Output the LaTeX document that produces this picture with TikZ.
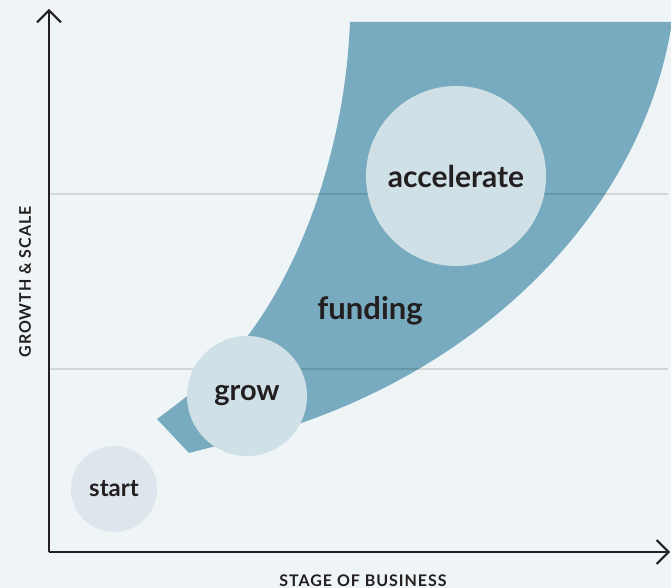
\documentclass[tikz,border=0pt]{standalone}
\usepackage{fontspec}
\setmainfont{Lato}
\newfontfamily\spacedfont[LetterSpace=6]{Lato}
\usetikzlibrary{arrows.meta}
\definecolor{bg}{HTML}{EFF4F7}
\definecolor{band}{HTML}{78ABBF}
\definecolor{bubble}{HTML}{CFE0E7}
\definecolor{bubblelight}{HTML}{DCE6EC}
\definecolor{ink}{HTML}{231F20}
\begin{document}
\begin{tikzpicture}[x=1pt,y=-1pt,
  axis/.style={draw=ink,line width=2pt,-{Straight Barb[length=12pt,width=24pt]}},
  gridline/.style={draw=black,opacity=0.12,line width=1.5pt},
  bubblenode/.style={circle,fill=bubble,inner sep=0pt,text=ink,font=\bfseries\fontsize{30}{36}\selectfont},
  axislabel/.style={text=ink,font=\spacedfont\bfseries\fontsize{16}{19}\selectfont,inner sep=0pt}]
\fill[bg] (0,0) rectangle (671,588);
\useasboundingbox (0,0) rectangle (671,588);
\begin{scope}
\clip (0,0) rectangle (671,588);
\fill[band] (350,22) .. controls (345,150) and (300,270) .. (243,342)
  .. controls (220,370) and (190,395) .. (157,419)
  -- (189,453) -- (212,447)
  .. controls (450,400) and (640,230) .. (672,22)
  -- cycle;
\end{scope}
\coordinate (g1a) at (49,194); \coordinate (g1b) at (668,194);
\coordinate (g2a) at (49,369); \coordinate (g2b) at (668,369);
\draw[gridline] (g1a) -- (g1b);
\draw[gridline] (g2a) -- (g2b);
\node[bubblenode,minimum size=180pt] (acc) at (456,176) {accelerate};
\node[bubblenode,minimum size=120pt,font=\bfseries\fontsize{29}{35}\selectfont] (grow) at (247,396) {grow};
\node[bubblenode,fill=bubblelight,minimum size=86pt,font=\bfseries\fontsize{24}{29}\selectfont] (start) at (114,489) {start};
\node[text=ink,font=\bfseries\fontsize{31}{37}\selectfont] (funding) at (370,311) {funding};
\coordinate (O) at (49,552);
\coordinate (ytop) at (49,9);
\coordinate (xend) at (670,552);
\draw[axis] (O) -- (ytop);
\draw[axis] (O) -- (xend);
\node[axislabel,rotate=90] (ylab) at (25,282) {GROWTH \& SCALE};
\node[axislabel,anchor=base] (xlab) at (363,586) {STAGE OF BUSINESS};
\end{tikzpicture}
\end{document}
